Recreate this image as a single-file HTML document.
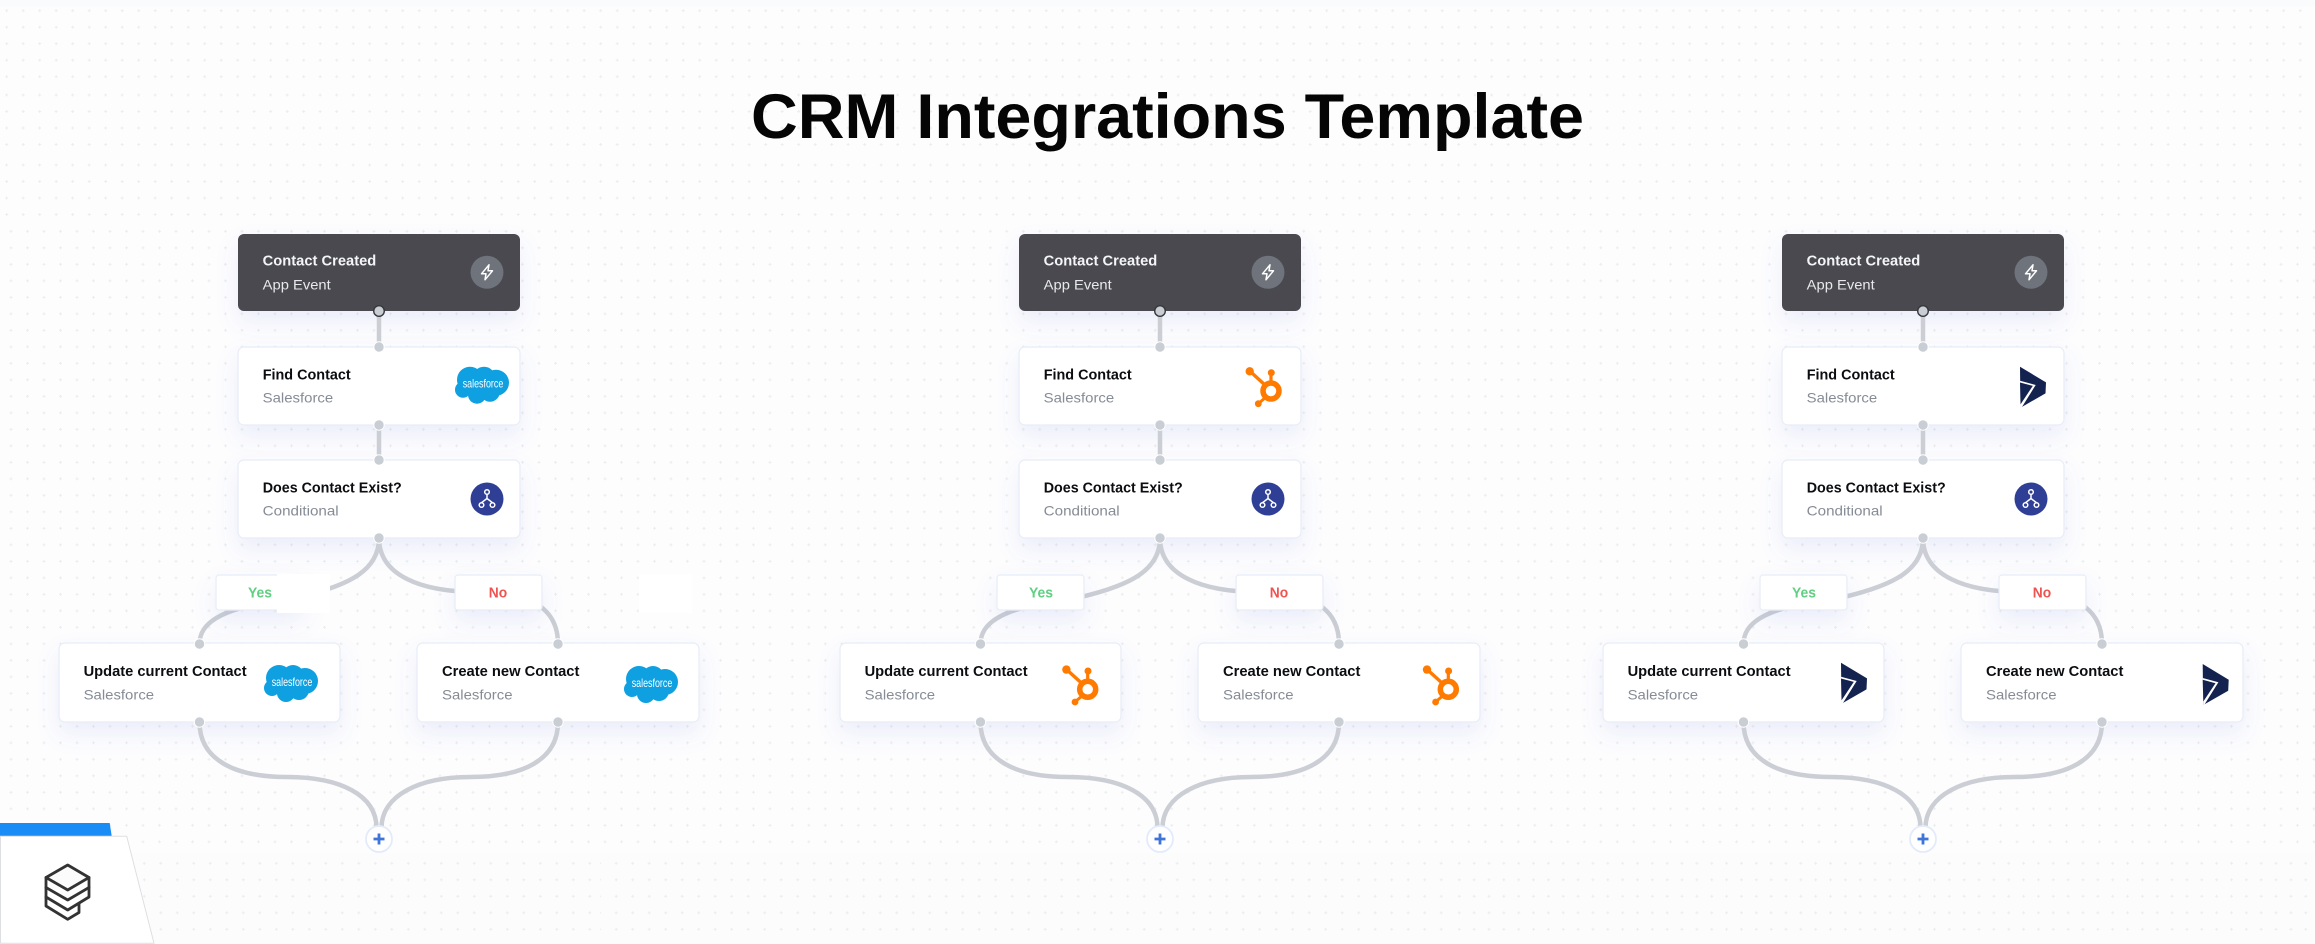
<!DOCTYPE html>
<html><head><meta charset="utf-8"><title>CRM Integrations Template</title>
<style>
html,body{margin:0;padding:0;background:#fdfdfe;width:2315px;height:944px;overflow:hidden}
svg{display:block}
text{font-family:"Liberation Sans",sans-serif}
.n{font-size:14.5px;font-weight:700;fill:#0c0d10}
.s{font-size:14px;fill:#868b95}
.nw{font-size:14.5px;font-weight:700;fill:#f4f5f6}
.sw{font-size:14px;fill:#e8e9ec}
.c{fill:#fff;stroke:#e7ecf7;stroke-width:1.2}
.l{fill:none;stroke:#cbced4;stroke-width:4.5}
.d{fill:#c9cdd4;stroke:#fff;stroke-width:1}
.y{font-size:14.5px;font-weight:700;fill:#5fcf82}
.o{font-size:14.5px;font-weight:700;fill:#ef5350}
</style></head><body>
<svg width="2315" height="944" viewBox="0 0 2315 944" xmlns="http://www.w3.org/2000/svg">
<defs>
<g id="dt"><rect x="0" y="1" width="3" height="1" fill="#ecedef"/><rect x="1" y="0" width="1" height="3" fill="#ecedef"/></g>
<pattern id="pa" width="16.5" height="16.5" patternUnits="userSpaceOnUse" patternTransform="translate(5.2,9.2)"><use href="#dt"/></pattern>
<pattern id="pb" width="16.5" height="16.5" patternUnits="userSpaceOnUse" patternTransform="translate(5.2,93.5)"><use href="#dt"/></pattern>
<pattern id="pc" width="16.5" height="16.5" patternUnits="userSpaceOnUse" patternTransform="translate(5.2,163.5)"><use href="#dt"/></pattern>
<pattern id="pd" width="16.5" height="16.5" patternUnits="userSpaceOnUse" patternTransform="translate(9.5,229.8)"><use href="#dt"/></pattern>
<pattern id="pe" width="16.5" height="16.5" patternUnits="userSpaceOnUse" patternTransform="translate(-1.2,229.8)"><use href="#dt"/></pattern>
<pattern id="pf" width="16.5" height="16.5" patternUnits="userSpaceOnUse" patternTransform="translate(2.5,229.8)"><use href="#dt"/></pattern>
<pattern id="pg" width="16.5" height="16.5" patternUnits="userSpaceOnUse" patternTransform="translate(10.8,861.8)"><use href="#dt"/></pattern>
<pattern id="ph" width="16.5" height="16.5" patternUnits="userSpaceOnUse" patternTransform="translate(4.2,861.8)"><use href="#dt"/></pattern>
<pattern id="pi" width="14.85" height="16.5" patternUnits="userSpaceOnUse" patternTransform="translate(1457.8,861.8)"><use href="#dt"/></pattern>
<filter id="sh" x="-25%" y="-40%" width="150%" height="220%"><feDropShadow dx="0" dy="11" stdDeviation="11" flood-color="#5a72d8" flood-opacity="0.11"/></filter>
<g id="sf"><g fill="#0ea0e0"><circle cx="15" cy="13" r="13"/><circle cx="29" cy="11" r="11"/><circle cx="41" cy="16" r="13"/><circle cx="8" cy="23" r="8"/><circle cx="22" cy="28" r="9"/><circle cx="35" cy="25" r="10"/><circle cx="24" cy="20" r="12"/></g></g>
<g id="hs" fill="#ff7a00" stroke="#ff7a00"><circle cx="0" cy="0" r="8" fill="none" stroke-width="5.5"/><path d="M0 -8V-18" stroke-width="3.2"/><circle cx="0.3" cy="-18.3" r="3.5" stroke="none"/><path d="M-6 -6L-21 -19.7" stroke-width="3.4"/><circle cx="-21.3" cy="-19.7" r="4.2" stroke="none"/><path d="M-5 6L-12.7 12.7" stroke-width="3"/><circle cx="-12.7" cy="12.7" r="3.4" stroke="none"/></g>
<g id="dy"><path d="M0 0L26 15.7L25.5 26.7L0.5 41Z" fill="#13224f"/><path d="M0 14L15.7 18.3L1.5 41L0.5 41Z" fill="#fff"/><path d="M0 15.8L12.8 19.2L0.6 37.5Z" fill="#13224f"/></g>
<g id="bolt"><circle r="16.5" fill="#6e737c"/><path d="M2 -7.5L-5.5 1.5L-1 1.5L-2 7.5L5.5 -1.5L1 -1.5Z" fill="none" stroke="#fff" stroke-width="1.5" stroke-linejoin="round"/></g>
<g id="cond"><circle r="16.5" fill="#2f3f95"/><g fill="none" stroke="#fff" stroke-width="1.5"><circle cy="-7" r="2.3"/><circle cx="-5.5" cy="6" r="2.3"/><circle cx="5.5" cy="6" r="2.3"/><path d="M0 -4.7V-0.5L-5.5 3.7M0 -0.5L5.5 3.7"/></g></g>
</defs>

<rect width="2315" height="944" fill="#fdfdfe"/>
<rect width="2315" height="6" fill="#fafbfc"/>
<rect y="0" width="2315" height="86" fill="url(#pa)"/>
<rect y="86" width="2315" height="69" fill="url(#pb)"/>
<rect y="155" width="2315" height="67" fill="url(#pc)"/>
<rect y="222" width="780" height="631" fill="url(#pd)"/>
<rect x="780" y="222" width="860" height="631" fill="url(#pe)"/>
<rect x="1640" y="222" width="675" height="631" fill="url(#pf)"/>

<text x="751" y="138" font-size="63" font-weight="700" fill="#050505" textLength="833" lengthAdjust="spacingAndGlyphs">CRM Integrations Template</text>

<!-- Column 1 -->
<g>
<rect x="238" y="234" width="282" height="77" rx="6" fill="#484a4f" filter="url(#sh)"/>
<rect class="c" x="238" y="347" width="282" height="78" rx="6" filter="url(#sh)"/>
<rect class="c" x="238" y="460" width="282" height="78" rx="6" filter="url(#sh)"/>
<rect class="c" x="59" y="643" width="281" height="79" rx="6" filter="url(#sh)"/>
<rect class="c" x="417" y="643" width="282" height="79" rx="6" filter="url(#sh)"/>
<path class="l" d="M379 311V347M379 425V460"/>
<path class="l" d="M379 538C379 570 350 585 300 597C240 605 199.5 615 199.5 644"/>
<path class="l" d="M379 538C379 575 420 592 478 592C540 592 558 615 558 644"/>
<path class="l" d="M199.5 722C199.5 760 235 777 287 777C340 777 376.5 795 376.5 828"/>
<path class="l" d="M558 722C558 760 523 777 470 777C420 777 381.5 795 381.5 828"/>
<rect class="c" x="216" y="575" width="87" height="35" rx="3" filter="url(#sh)"/>
<rect class="c" x="455" y="575" width="87" height="35" rx="3" filter="url(#sh)"/>
<circle cx="379" cy="311" r="5.3" fill="#c9cdd4" stroke="#36383c" stroke-width="1.4"/>
<circle class="d" cx="379" cy="347" r="5.2"/><circle class="d" cx="379" cy="425" r="5.2"/><circle class="d" cx="379" cy="460" r="5.2"/><circle class="d" cx="379" cy="538" r="5.2"/>
<circle class="d" cx="199.5" cy="644" r="5.2"/><circle class="d" cx="558" cy="644" r="5.2"/><circle class="d" cx="199.5" cy="722" r="5.2"/><circle class="d" cx="558" cy="722" r="5.2"/>
<circle cx="379" cy="839" r="13" fill="#fff" stroke="#e3ebfb" stroke-width="1.8"/><path d="M373.5 839H384.5M379 833.5V844.5" stroke="#3f74d9" stroke-width="2.8"/>
<use href="#bolt" x="487" y="272.3"/><use href="#cond" x="487" y="499"/>
<use href="#sf" x="455" y="366.7"/><text x="462.7" y="387.6" font-size="12" fill="#fff" textLength="40.6" lengthAdjust="spacingAndGlyphs">salesforce</text>
<use href="#sf" x="264" y="665"/><text x="271.7" y="685.9" font-size="12" fill="#fff" textLength="40.6" lengthAdjust="spacingAndGlyphs">salesforce</text>
<use href="#sf" x="624" y="666"/><text x="631.7" y="686.9" font-size="12" fill="#fff" textLength="40.6" lengthAdjust="spacingAndGlyphs">salesforce</text>
<text class="nw" x="262.7" y="265.7" textLength="113.6" lengthAdjust="spacingAndGlyphs">Contact Created</text>
<text class="sw" x="262.7" y="289.3" textLength="68" lengthAdjust="spacingAndGlyphs">App Event</text>
<text class="n" x="262.7" y="379.3" textLength="88" lengthAdjust="spacingAndGlyphs">Find Contact</text>
<text class="s" x="262.7" y="402.3" textLength="70.5" lengthAdjust="spacingAndGlyphs">Salesforce</text>
<text class="n" x="262.7" y="492.5" textLength="139" lengthAdjust="spacingAndGlyphs">Does Contact Exist?</text>
<text class="s" x="262.7" y="515.7" textLength="76" lengthAdjust="spacingAndGlyphs">Conditional</text>
<text class="y" x="248" y="597.7" textLength="24" lengthAdjust="spacingAndGlyphs">Yes</text>
<text class="o" x="488.8" y="597.7" textLength="18.4" lengthAdjust="spacingAndGlyphs">No</text>
<text class="n" x="83.6" y="676" textLength="163" lengthAdjust="spacingAndGlyphs">Update current Contact</text>
<text class="s" x="83.6" y="699.3" textLength="70.5" lengthAdjust="spacingAndGlyphs">Salesforce</text>
<text class="n" x="442" y="676" textLength="137.4" lengthAdjust="spacingAndGlyphs">Create new Contact</text>
<text class="s" x="442" y="699.3" textLength="70.5" lengthAdjust="spacingAndGlyphs">Salesforce</text>
<rect x="277" y="574" width="53" height="39" fill="#fff"/>
<rect x="639" y="574" width="53" height="39" fill="#fff"/>
</g>

<!-- Column 2 -->
<g transform="translate(781,0)">
<rect x="238" y="234" width="282" height="77" rx="6" fill="#484a4f" filter="url(#sh)"/>
<rect class="c" x="238" y="347" width="282" height="78" rx="6" filter="url(#sh)"/>
<rect class="c" x="238" y="460" width="282" height="78" rx="6" filter="url(#sh)"/>
<rect class="c" x="59" y="643" width="281" height="79" rx="6" filter="url(#sh)"/>
<rect class="c" x="417" y="643" width="282" height="79" rx="6" filter="url(#sh)"/>
<path class="l" d="M379 311V347M379 425V460"/>
<path class="l" d="M379 538C379 570 350 585 300 597C240 605 199.5 615 199.5 644"/>
<path class="l" d="M379 538C379 575 420 592 478 592C540 592 558 615 558 644"/>
<path class="l" d="M199.5 722C199.5 760 235 777 287 777C340 777 376.5 795 376.5 828"/>
<path class="l" d="M558 722C558 760 523 777 470 777C420 777 381.5 795 381.5 828"/>
<rect class="c" x="216" y="575" width="87" height="35" rx="3" filter="url(#sh)"/>
<rect class="c" x="455" y="575" width="87" height="35" rx="3" filter="url(#sh)"/>
<circle cx="379" cy="311" r="5.3" fill="#c9cdd4" stroke="#36383c" stroke-width="1.4"/>
<circle class="d" cx="379" cy="347" r="5.2"/><circle class="d" cx="379" cy="425" r="5.2"/><circle class="d" cx="379" cy="460" r="5.2"/><circle class="d" cx="379" cy="538" r="5.2"/>
<circle class="d" cx="199.5" cy="644" r="5.2"/><circle class="d" cx="558" cy="644" r="5.2"/><circle class="d" cx="199.5" cy="722" r="5.2"/><circle class="d" cx="558" cy="722" r="5.2"/>
<circle cx="379" cy="839" r="13" fill="#fff" stroke="#e3ebfb" stroke-width="1.8"/><path d="M373.5 839H384.5M379 833.5V844.5" stroke="#3f74d9" stroke-width="2.8"/>
<use href="#bolt" x="487" y="272.3"/><use href="#cond" x="487" y="499"/>
<use href="#hs" x="490" y="391"/><use href="#hs" x="306.7" y="689.3"/><use href="#hs" x="667.3" y="689.3"/>
<text class="nw" x="262.7" y="265.7" textLength="113.6" lengthAdjust="spacingAndGlyphs">Contact Created</text>
<text class="sw" x="262.7" y="289.3" textLength="68" lengthAdjust="spacingAndGlyphs">App Event</text>
<text class="n" x="262.7" y="379.3" textLength="88" lengthAdjust="spacingAndGlyphs">Find Contact</text>
<text class="s" x="262.7" y="402.3" textLength="70.5" lengthAdjust="spacingAndGlyphs">Salesforce</text>
<text class="n" x="262.7" y="492.5" textLength="139" lengthAdjust="spacingAndGlyphs">Does Contact Exist?</text>
<text class="s" x="262.7" y="515.7" textLength="76" lengthAdjust="spacingAndGlyphs">Conditional</text>
<text class="y" x="248" y="597.7" textLength="24" lengthAdjust="spacingAndGlyphs">Yes</text>
<text class="o" x="488.8" y="597.7" textLength="18.4" lengthAdjust="spacingAndGlyphs">No</text>
<text class="n" x="83.6" y="676" textLength="163" lengthAdjust="spacingAndGlyphs">Update current Contact</text>
<text class="s" x="83.6" y="699.3" textLength="70.5" lengthAdjust="spacingAndGlyphs">Salesforce</text>
<text class="n" x="442" y="676" textLength="137.4" lengthAdjust="spacingAndGlyphs">Create new Contact</text>
<text class="s" x="442" y="699.3" textLength="70.5" lengthAdjust="spacingAndGlyphs">Salesforce</text>
</g>

<!-- Column 3 -->
<g transform="translate(1544,0)">
<rect x="238" y="234" width="282" height="77" rx="6" fill="#484a4f" filter="url(#sh)"/>
<rect class="c" x="238" y="347" width="282" height="78" rx="6" filter="url(#sh)"/>
<rect class="c" x="238" y="460" width="282" height="78" rx="6" filter="url(#sh)"/>
<rect class="c" x="59" y="643" width="281" height="79" rx="6" filter="url(#sh)"/>
<rect class="c" x="417" y="643" width="282" height="79" rx="6" filter="url(#sh)"/>
<path class="l" d="M379 311V347M379 425V460"/>
<path class="l" d="M379 538C379 570 350 585 300 597C240 605 199.5 615 199.5 644"/>
<path class="l" d="M379 538C379 575 420 592 478 592C540 592 558 615 558 644"/>
<path class="l" d="M199.5 722C199.5 760 235 777 287 777C340 777 376.5 795 376.5 828"/>
<path class="l" d="M558 722C558 760 523 777 470 777C420 777 381.5 795 381.5 828"/>
<rect class="c" x="216" y="575" width="87" height="35" rx="3" filter="url(#sh)"/>
<rect class="c" x="455" y="575" width="87" height="35" rx="3" filter="url(#sh)"/>
<circle cx="379" cy="311" r="5.3" fill="#c9cdd4" stroke="#36383c" stroke-width="1.4"/>
<circle class="d" cx="379" cy="347" r="5.2"/><circle class="d" cx="379" cy="425" r="5.2"/><circle class="d" cx="379" cy="460" r="5.2"/><circle class="d" cx="379" cy="538" r="5.2"/>
<circle class="d" cx="199.5" cy="644" r="5.2"/><circle class="d" cx="558" cy="644" r="5.2"/><circle class="d" cx="199.5" cy="722" r="5.2"/><circle class="d" cx="558" cy="722" r="5.2"/>
<circle cx="379" cy="839" r="13" fill="#fff" stroke="#e3ebfb" stroke-width="1.8"/><path d="M373.5 839H384.5M379 833.5V844.5" stroke="#3f74d9" stroke-width="2.8"/>
<use href="#bolt" x="487" y="272.3"/><use href="#cond" x="487" y="499"/>
<use href="#dy" x="476" y="366.7"/><use href="#dy" x="297" y="662.7"/><use href="#dy" x="658.7" y="664"/>
<text class="nw" x="262.7" y="265.7" textLength="113.6" lengthAdjust="spacingAndGlyphs">Contact Created</text>
<text class="sw" x="262.7" y="289.3" textLength="68" lengthAdjust="spacingAndGlyphs">App Event</text>
<text class="n" x="262.7" y="379.3" textLength="88" lengthAdjust="spacingAndGlyphs">Find Contact</text>
<text class="s" x="262.7" y="402.3" textLength="70.5" lengthAdjust="spacingAndGlyphs">Salesforce</text>
<text class="n" x="262.7" y="492.5" textLength="139" lengthAdjust="spacingAndGlyphs">Does Contact Exist?</text>
<text class="s" x="262.7" y="515.7" textLength="76" lengthAdjust="spacingAndGlyphs">Conditional</text>
<text class="y" x="248" y="597.7" textLength="24" lengthAdjust="spacingAndGlyphs">Yes</text>
<text class="o" x="488.8" y="597.7" textLength="18.4" lengthAdjust="spacingAndGlyphs">No</text>
<text class="n" x="83.6" y="676" textLength="163" lengthAdjust="spacingAndGlyphs">Update current Contact</text>
<text class="s" x="83.6" y="699.3" textLength="70.5" lengthAdjust="spacingAndGlyphs">Salesforce</text>
<text class="n" x="442" y="676" textLength="137.4" lengthAdjust="spacingAndGlyphs">Create new Contact</text>
<text class="s" x="442" y="699.3" textLength="70.5" lengthAdjust="spacingAndGlyphs">Salesforce</text>
</g>

<!-- Lower band -->
<rect y="853" width="2315" height="91" fill="#fcfcfd"/>
<rect y="855" width="600" height="89" fill="url(#pg)"/>
<rect x="600" y="855" width="850" height="89" fill="url(#ph)"/>
<rect x="1450" y="855" width="865" height="89" fill="url(#pi)"/>

<!-- Logo -->
<path d="M0 823H109.7L111.7 836H0Z" fill="#1a8cf5"/>
<path d="M0.5 836.2H126.7L154 943.3H0.5Z" fill="#fff" stroke="#dedfe2" stroke-width="1"/>
<g fill="none" stroke="#333" stroke-width="2.8" stroke-linejoin="round" stroke-linecap="round">
<path d="M67.7 865L89 877.5L67.7 890L46 877.5Z" fill="#fbfbfc"/>
<path d="M46 877.5V906L67.7 919.3L79 912.5V904"/>
<path d="M89 877.5V897L67.7 910L46 897"/>
<path d="M46 887.5L67.7 900L89 887.5"/>
</g>
</svg>
</body></html>
